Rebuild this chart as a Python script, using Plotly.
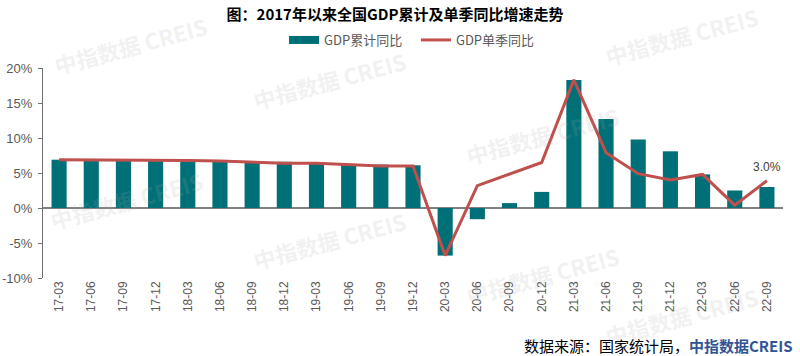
import plotly.graph_objects as go

quarters = ["17-03","17-06","17-09","17-12","18-03","18-06","18-09","18-12",
            "19-03","19-06","19-09","19-12","20-03","20-06","20-09","20-12",
            "21-03","21-06","21-09","21-12","22-03","22-06","22-09"]
gdp_cum = [6.9,6.9,6.9,6.9,6.8,6.8,6.7,6.6,6.4,6.3,6.2,6.1,-6.8,-1.6,0.7,2.3,
           18.3,12.7,9.8,8.1,4.8,2.5,3.0]
gdp_q = [6.9,6.9,6.8,6.8,6.8,6.7,6.5,6.4,6.4,6.2,6.0,6.0,-6.8,3.2,4.9,6.5,
         18.3,7.9,4.9,4.0,4.8,0.4,3.9]
y_ticks = [-10,-5,0,5,10,15,20]
y_tick_text = ["-10%","-5%","0%","5%","10%","15%","20%"]

FONT = "Liberation Sans, Arial, Noto Sans CJK SC, sans-serif"
CJK = "Noto Sans CJK SC, sans-serif"
BAR_C = "#007078"
LINE_C = "#C0504D"

fig = go.Figure()
fig.add_trace(go.Bar(x=quarters, y=gdp_cum, name="GDP累计同比", showlegend=False,
                     marker=dict(color=BAR_C, line=dict(width=0)), width=0.47))
# legend stand-in for the bar series (wide rectangle swatch)
fig.add_trace(go.Scatter(x=[None], y=[None], name="GDP累计同比   ", mode="lines",
                         line=dict(color=BAR_C, width=8)))
fig.add_trace(go.Scatter(x=quarters, y=gdp_q, name="GDP单季同比", mode="lines",
                         line=dict(color=LINE_C, width=3)))

# watermarks
for (wx, wy) in [(95,45),(310,80),(540,135),(690,36),(90,200),(310,240),(540,275),(690,316)]:
    fig.add_annotation(x=wx/800, y=(356-wy-78)/210, xref="paper", yref="paper", text="<b>中指数据 CREIS</b>",
                       showarrow=False, textangle=-15, xanchor="center", yanchor="middle",
                       font=dict(family=CJK, size=22, color="rgba(170,170,170,0.18)"))

fig.add_annotation(x="22-09", y=3.9, text="3.0%", showarrow=False, yshift=14, xshift=0,
                   font=dict(family=FONT, size=12, color="#404040"))
fig.add_annotation(x=1.0, y=-0.32, xref="paper", yref="paper", xanchor="right", yanchor="middle",
                   showarrow=False, xshift=12,
                   text="数据来源：国家统计局，<b><span style='color:#2F5597'>中指数据CREIS</span></b>",
                   font=dict(family=CJK, size=15, color="#000000"))

fig.update_layout(
    width=800, height=356,
    margin=dict(l=43, r=17, t=68, b=78, autoexpand=False),
    paper_bgcolor="white", plot_bgcolor="white",
    title=dict(text="<b>图：2017年以来全国GDP累计及单季同比增速走势</b>", x=395/800, xanchor="center",
               y=1-15/356, yanchor="middle", font=dict(family=CJK, size=15, color="#000000")),
    legend=dict(orientation="h", x=399/800, xanchor="center", yref="container", y=1-40/356, yanchor="middle",
                font=dict(family=CJK, size=13, color="#595959"), itemwidth=30, traceorder="normal"),
    showlegend=True,
)
fig.update_xaxes(type="category", tickangle=-90, showgrid=False, showline=False, ticks="",
                 automargin=False,
                 tickfont=dict(family=FONT, size=12, color="#595959"), range=[-0.5, 22.5])
fig.update_yaxes(range=[-10, 20], tickvals=y_ticks, ticktext=y_tick_text, showgrid=False,
                 automargin=False, ticklabelstandoff=3,
                 showline=True, linecolor="#707070", linewidth=1, ticks="outside", ticklen=4,
                 tickcolor="#707070", zeroline=True, zerolinecolor="#808080", zerolinewidth=1.5,
                 tickfont=dict(family=FONT, size=13, color="#595959"))

fig.write_html("out.html", config={"displayModeBar": False},
               post_script="document.body.style.margin='0';document.body.style.overflow='hidden';")
